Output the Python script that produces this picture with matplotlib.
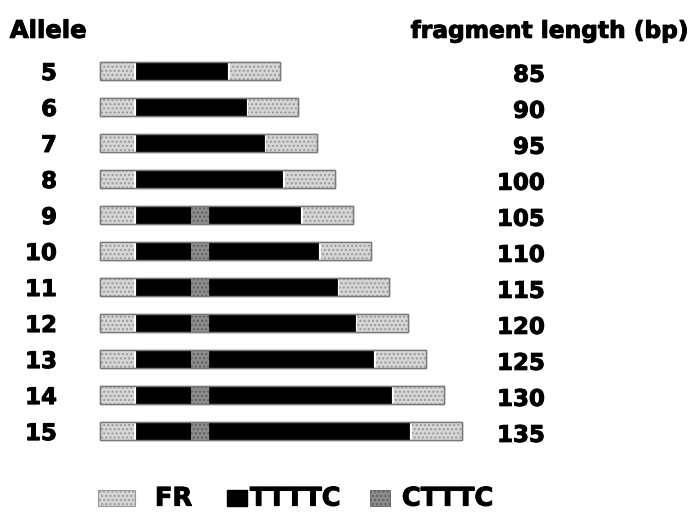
import matplotlib
matplotlib.use("Agg")
import matplotlib.pyplot as plt
from matplotlib.patches import Rectangle
import matplotlib.patheffects as pe

# ---- data ----
alleles = [5, 6, 7, 8, 9, 10, 11, 12, 13, 14, 15]
fragment_bp = [85, 90, 95, 100, 105, 110, 115, 120, 125, 130, 135]
tttt_before = [5, 6, 7, 8, 3, 3, 3, 3, 3, 3, 3]   # TTTTC repeats before CTTTC
ctttc_count = [0, 0, 0, 0, 1, 1, 1, 1, 1, 1, 1]   # CTTTC repeats
tttt_after = [0, 0, 0, 0, 5, 6, 7, 8, 9, 10, 11]  # TTTTC repeats after CTTTC
fr_left = 2.0    # flanking region widths (in repeat units)
fr_right = 2.9
legend_labels = ["FR", "TTTTC", "CTTTC"]

# ---- styles ----
FR_FACE = "#d6d6d6"
FR_EDGE = "#7a7a7a"
CT_FACE = "#8c8c8c"
BLACK = "#000000"
FONT = "DejaVu Sans"
THICK = [pe.withStroke(linewidth=0.7, foreground="black")]

fig = plt.figure(figsize=(6.96, 5.15), dpi=100)
ax = fig.add_axes([0, 0, 1, 1])
ax.set_xlim(-5.49, 32.75)
ax.set_ylim(12.33, -1.97)
ax.axis("off")

bh = 0.5
gap = 0.15

for i, a in enumerate(alleles):
    y = i
    total = fr_left + tttt_before[i] + ctttc_count[i] + tttt_after[i] + fr_right
    # outline of whole fragment
    ax.barh(y, total, left=0, height=bh, color="white", edgecolor=FR_EDGE,
            linewidth=1.0, zorder=1)
    x = 0.0
    ax.barh(y, fr_left - gap, left=x, height=bh, color=FR_FACE, edgecolor="#9a9a9a",
            linewidth=0, hatch="....", zorder=2)
    x += fr_left
    ax.barh(y, tttt_before[i], left=x, height=bh, color=BLACK, edgecolor=BLACK,
            linewidth=0.6, zorder=3)
    x += tttt_before[i]
    if ctttc_count[i] > 0:
        ax.barh(y, ctttc_count[i], left=x, height=bh, color=CT_FACE, edgecolor="#5e5e5e",
                linewidth=0, hatch="....", zorder=3)
        x += ctttc_count[i]
    if tttt_after[i] > 0:
        ax.barh(y, tttt_after[i], left=x, height=bh, color=BLACK, edgecolor=BLACK,
                linewidth=0.6, zorder=3)
        x += tttt_after[i]
    ax.barh(y, fr_right - gap, left=x + gap, height=bh, color=FR_FACE, edgecolor="#9a9a9a",
            linewidth=0, hatch="....", zorder=2)
    ax.barh(y, total, left=0, height=bh, fill=False, edgecolor=FR_EDGE,
            linewidth=1.0, zorder=4)
    ax.text(-2.36, y + 0.25, str(a), ha="right", va="baseline",
            fontsize=16.5, fontweight="bold", family=FONT, path_effects=THICK)
    ax.text(24.45, y + 0.3, str(fragment_bp[i]), ha="right", va="baseline",
            fontsize=16.5, fontweight="bold", family=FONT, path_effects=THICK)

# headers
ax.text(-4.95, -0.92, "Allele", ha="left", va="baseline",
        fontsize=17.5, fontweight="bold", family=FONT, path_effects=THICK)
ax.text(32.4, -0.92, "fragment length (bp)", ha="right", va="baseline",
        fontsize=16.8, fontweight="bold", family=FONT, path_effects=THICK)

# legend
ly = 11.86
lh = 0.44
ax.add_patch(Rectangle((-0.11, ly - lh / 2), 2.03, lh, facecolor=FR_FACE,
                       edgecolor="#9a9a9a", linewidth=0.8, hatch="...."))
ax.add_patch(Rectangle((6.98, ly - lh / 2), 1.1, lh, facecolor=BLACK, edgecolor=BLACK))
ax.add_patch(Rectangle((14.84, ly - lh / 2), 1.1, lh, facecolor=CT_FACE,
                       edgecolor="#5e5e5e", linewidth=0.6, hatch="...."))
for xpos, lab in zip([3.02, 8.24, 16.59], legend_labels):
    ax.text(xpos, 12.07, lab, ha="left", va="baseline",
            fontsize=18.5, fontweight="bold", family=FONT, path_effects=THICK)

fig.savefig("out.png", dpi=100)
